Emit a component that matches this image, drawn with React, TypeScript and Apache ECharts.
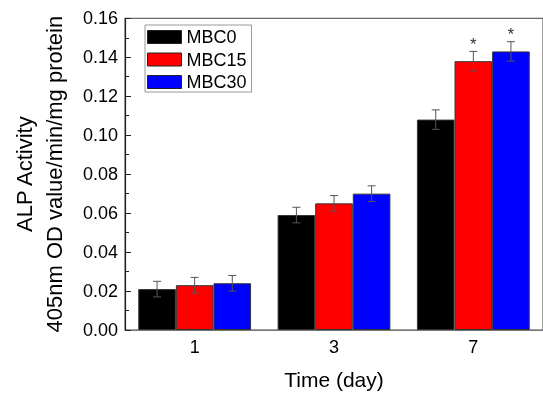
import React, { useEffect, useRef } from "react";
import * as echarts from "echarts";

const days = ["1", "3", "7"];
const seriesNames = ["MBC0", "MBC15", "MBC30"];
const colors = ["#000000", "#ff0000", "#0000ff"];
const mbc0 = [0.021, 0.059, 0.108];
const mbc15 = [0.023, 0.065, 0.138];
const mbc30 = [0.024, 0.070, 0.143];
const err0 = [0.004, 0.004, 0.005];
const err15 = [0.004, 0.004, 0.005];
const err30 = [0.004, 0.004, 0.005];
const sig0 = ["", "", ""];
const sig15 = ["", "", "*"];
const sig30 = ["", "", "*"];
const yTicks = [0, 0.16, 0.02];

const FONT = "'Liberation Sans', Arial, sans-serif";
const BAR_W = 37.6;

export default function App() {
  const ref = useRef<HTMLDivElement>(null);
  useEffect(() => {
    if (!ref.current) return;
    const chart = echarts.init(ref.current, undefined, { renderer: "svg" });
    const values = [mbc0, mbc15, mbc30];
    const errs = [err0, err15, err30];
    const sigs = [sig0, sig15, sig30];

    const errData: any[] = [];
    values.forEach((vals, s) => {
      vals.forEach((v, i) => {
        errData.push([i, v, errs[s][i], s, sigs[s][i]]);
      });
    });

    const barSeries = values.map((vals, s) => ({
      type: "bar",
      name: seriesNames[s],
      data: vals,
      barWidth: BAR_W,
      barGap: "0%",
      itemStyle: { color: colors[s], borderColor: "#333", borderWidth: 1 },
      z: 2,
    }));

    chart.setOption({
      animation: false,
      textStyle: { fontFamily: FONT },
      grid: {
        left: 125,
        top: 18.3,
        right: -3,
        bottom: 64.6,
        show: true,
        borderColor: "#444",
        borderWidth: 1,
        backgroundColor: "transparent",
      },
      legend: {
        data: seriesNames,
        orient: "vertical",
        left: 145,
        top: 25,
        backgroundColor: "#fff",
        borderColor: "#999",
        borderWidth: 1,
        padding: [3, 5, 1, 2],
        itemWidth: 34,
        itemHeight: 13,
        itemGap: 4.5,
        icon: "rect",
        itemStyle: { borderColor: "#222", borderWidth: 1 },
        textStyle: { fontSize: 18, color: "#000", fontFamily: FONT, lineHeight: 18 },
      },
      xAxis: {
        type: "category",
        data: days,
        boundaryGap: true,
        name: "Time (day)",
        nameLocation: "middle",
        nameGap: 39,
        nameTextStyle: { fontSize: 21, color: "#000", fontFamily: FONT },
        axisLine: { lineStyle: { color: "#777", width: 1.2 } },
        axisTick: { show: false },
        axisLabel: { fontSize: 18, color: "#000", margin: 8, fontFamily: FONT },
        splitLine: { show: false },
      },
      yAxis: {
        type: "value",
        min: yTicks[0],
        max: yTicks[1],
        interval: yTicks[2],
        name: "ALP Activity\n405nm OD value/min/mg protein",
        nameLocation: "middle",
        nameGap: 56,
        nameTextStyle: { fontSize: 22, color: "#000", lineHeight: 30, fontFamily: FONT },
        axisLine: { show: true, lineStyle: { color: "#222", width: 1.2 } },
        axisTick: { show: true, inside: true, length: 6, lineStyle: { color: "#222" } },
        minorTick: { show: true, splitNumber: 2, length: 4, lineStyle: { color: "#222" } },
        axisLabel: {
          fontSize: 18,
          color: "#000",
          margin: 7,
          fontFamily: FONT,
          formatter: (v: number) => v.toFixed(2),
        },
        splitLine: { show: false },
      },
      series: [
        ...barSeries,
        {
          type: "custom",
          name: "errors",
          data: errData,
          z: 5,
          renderItem: (params: any, api: any) => {
            const cat = api.value(0);
            const v = api.value(1);
            const e = api.value(2);
            const s = api.value(3);
            const sig = errData[params.dataIndex][4];
            const off = (s - 1) * BAR_W;
            const top = api.coord([cat, v + e]);
            const bot = api.coord([cat, v - e]);
            const x = top[0] + off;
            const cap = 4;
            const style = { stroke: "#555", lineWidth: 1 };
            const children: any[] = [
              { type: "line", shape: { x1: x, y1: top[1], x2: x, y2: bot[1] }, style },
              { type: "line", shape: { x1: x - cap, y1: top[1], x2: x + cap, y2: top[1] }, style },
              { type: "line", shape: { x1: x - cap, y1: bot[1], x2: x + cap, y2: bot[1] }, style },
            ];
            if (sig) {
              children.push({
                type: "text",
                x: x,
                y: top[1] - 7,
                style: {
                  text: sig,
                  fontSize: 17,
                  fontFamily: FONT,
                  fill: "#333",
                  align: "center",
                  verticalAlign: "middle",
                },
              });
            }
            return { type: "group", children };
          },
        },
      ],
    });
    return () => chart.dispose();
  }, []);
  return (
    <div
      ref={ref}
      style={{ position: "fixed", left: 0, top: 0, width: 543, height: 395 }}
    />
  );
}
